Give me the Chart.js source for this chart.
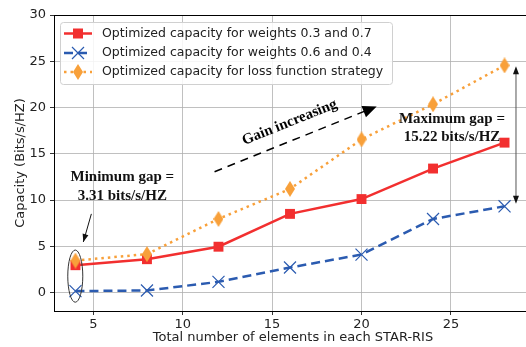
<!DOCTYPE html>
<html><head><meta charset="utf-8">
<style>html,body{margin:0;padding:0;background:#fff;}canvas{display:block;}</style>
<script src="https://cdn.jsdelivr.net/npm/chart.js@4/dist/chart.umd.min.js"></script>
</head><body>
<canvas id="c" width="526" height="347"></canvas>
<script>
// ---- data ----
const elements = [4, 8, 12, 16, 20, 24, 28];
const capW37 = [2.95, 3.6, 4.95, 8.5, 10.1, 13.4, 16.2];
const capW64 = [0.15, 0.22, 1.15, 2.7, 4.1, 7.95, 9.32];
const capLoss = [3.45, 4.15, 7.95, 11.2, 16.55, 20.35, 24.55];
const seriesLabels = [
  'Optimized capacity for weights 0.3 and 0.7',
  'Optimized capacity for weights 0.6 and 0.4',
  'Optimized capacity for loss function strategy'
];
const xTicks = [5, 10, 15, 20, 25];
const yTicks = [0, 5, 10, 15, 20, 25, 30];
const xRange = [2.8, 29.2];
const yRange = [-2, 30];
const xTitle = 'Total number of elements in each STAR-RIS';
const yTitle = 'Capacity (Bits/s/HZ)';
const minGapText = ['Minimum gap =', '3.31 bits/s/HZ'];
const maxGapText = ['Maximum gap =', '15.22 bits/s/HZ'];
const gainText = 'Gain increasing';

const RED = '#f22f2f', BLUE = '#2b5bb0', ORANGE = '#f8a03a';
const SANS = 'DejaVu Sans';
const SERIF = '"Liberation Serif", "DejaVu Serif", serif';

// thin diamond marker
function diamond(w, h, color) {
  const c = document.createElement('canvas');
  c.width = w; c.height = h;
  const g = c.getContext('2d');
  g.fillStyle = color;
  g.beginPath();
  g.moveTo(w / 2, 0); g.lineTo(w, h / 2); g.lineTo(w / 2, h); g.lineTo(0, h / 2); g.closePath();
  g.fill();
  return c;
}
const diamondImg = diamond(10, 16, ORANGE);

function pts(vals) { return elements.map((e, i) => ({ x: e, y: vals[i] })); }

function arrowHead(ctx, x0, y0, x1, y1, len, half) {
  const ang = Math.atan2(y1 - y0, x1 - x0);
  ctx.beginPath();
  ctx.moveTo(x1, y1);
  ctx.lineTo(x1 - len * Math.cos(ang) + half * Math.sin(ang), y1 - len * Math.sin(ang) - half * Math.cos(ang));
  ctx.lineTo(x1 - len * Math.cos(ang) - half * Math.sin(ang), y1 - len * Math.sin(ang) + half * Math.cos(ang));
  ctx.closePath();
  ctx.fill();
}

const overlay = {
  id: 'overlay',
  afterDatasetsDraw(chart) {
    const { ctx, scales: { x, y }, chartArea: a } = chart;
    const X = v => x.getPixelForValue(v), Y = v => y.getPixelForValue(v);
    ctx.save();
    // top spine
    ctx.strokeStyle = '#000'; ctx.lineWidth = 1;
    ctx.beginPath(); ctx.moveTo(a.left, a.top + 0.5); ctx.lineTo(a.right, a.top + 0.5); ctx.stroke();

    // gain arrow (dashed)
    const gx0 = X(11.78), gy0 = Y(13.06), gx1 = X(20.85), gy1 = Y(20.12);
    const ang = Math.atan2(gy1 - gy0, gx1 - gx0);
    ctx.strokeStyle = '#000'; ctx.fillStyle = '#000'; ctx.lineWidth = 1.5;
    ctx.setLineDash([8, 6]);
    ctx.beginPath(); ctx.moveTo(gx0, gy0);
    ctx.lineTo(gx1 - 10 * Math.cos(ang), gy1 - 10 * Math.sin(ang)); ctx.stroke();
    ctx.setLineDash([]);
    arrowHead(ctx, gx0, gy0, gx1, gy1, 14, 6);

    // gain text
    ctx.save();
    ctx.translate(X(15.98), Y(18.38));
    ctx.rotate(ang);
    ctx.font = 'bold 15px ' + SERIF;
    ctx.textAlign = 'center'; ctx.textBaseline = 'middle';
    ctx.fillText(gainText, 0, 0);
    ctx.restore();

    // min gap text
    ctx.font = 'bold 15px ' + SERIF;
    ctx.textAlign = 'center'; ctx.textBaseline = 'middle'; ctx.fillStyle = '#111';
    ctx.fillText(minGapText[0], X(6.62), Y(12.5));
    ctx.fillText(minGapText[1], X(6.62), Y(10.45));
    // min gap arrow
    ctx.strokeStyle = '#111'; ctx.fillStyle = '#111'; ctx.lineWidth = 1;
    const mx0 = X(4.89), my0 = Y(8.5), mx1 = X(4.44), my1 = Y(5.46);
    ctx.beginPath(); ctx.moveTo(mx0, my0); ctx.lineTo(mx1, my1); ctx.stroke();
    arrowHead(ctx, mx0, my0, mx1, my1, 8, 3);
    // ellipse
    ctx.strokeStyle = '#333'; ctx.lineWidth = 1;
    ctx.beginPath();
    ctx.ellipse(X(3.99), Y(1.77), X(3.99 + 0.42) - X(3.99), Y(1.77) - Y(1.77 + 2.82), 0, 0, Math.PI * 2);
    ctx.stroke();

    // max gap text
    ctx.fillStyle = '#111'; ctx.font = 'bold 15px ' + SERIF;
    ctx.fillText(maxGapText[0], X(25.06), Y(18.7));
    ctx.fillText(maxGapText[1], X(25.06), Y(16.75));
    // max gap double arrow
    const ax = X(28.64), ay0 = Y(24.46), ay1 = Y(9.59);
    ctx.strokeStyle = '#555'; ctx.lineWidth = 1;
    ctx.beginPath(); ctx.moveTo(ax, ay0 + 6); ctx.lineTo(ax, ay1 - 6); ctx.stroke();
    ctx.fillStyle = '#111';
    arrowHead(ctx, ax, ay1, ax, ay0, 8, 3);
    arrowHead(ctx, ax, ay0, ax, ay1, 8, 3);
    ctx.restore();
  },
  afterDraw(chart) {
    const { ctx, chartArea: a } = chart;
    ctx.save();
    // axis titles
    ctx.fillStyle = '#222';
    ctx.font = '13px ' + SANS;
    ctx.textAlign = 'center'; ctx.textBaseline = 'middle';
    ctx.fillText(xTitle, 293, 338);
    ctx.save();
    ctx.translate(21, (a.top + a.bottom) / 2);
    ctx.rotate(-Math.PI / 2);
    ctx.fillText(yTitle, 0, 0);
    ctx.restore();

    // legend
    const lx = 60.5, ly = 22.5, lw = 332, lh = 62, r = 3;
    ctx.fillStyle = 'rgba(255,255,255,0.85)';
    ctx.strokeStyle = '#d0d0d0'; ctx.lineWidth = 1;
    ctx.beginPath();
    ctx.moveTo(lx + r, ly); ctx.lineTo(lx + lw - r, ly); ctx.arcTo(lx + lw, ly, lx + lw, ly + r, r);
    ctx.lineTo(lx + lw, ly + lh - r); ctx.arcTo(lx + lw, ly + lh, lx + lw - r, ly + lh, r);
    ctx.lineTo(lx + r, ly + lh); ctx.arcTo(lx, ly + lh, lx, ly + lh - r, r);
    ctx.lineTo(lx, ly + r); ctx.arcTo(lx, ly, lx + r, ly, r);
    ctx.closePath(); ctx.fill(); ctx.stroke();

    const rows = [33.5, 53, 72];
    const hx0 = 64, hx1 = 92, hc = 78;
    chart.data.datasets.forEach((ds, i) => {
      const yy = rows[i];
      ctx.strokeStyle = ds.borderColor; ctx.lineWidth = ds.borderWidth;
      ctx.setLineDash(ds.borderDash || []);
      ctx.beginPath(); ctx.moveTo(hx0, yy); ctx.lineTo(hx1, yy); ctx.stroke();
      ctx.setLineDash([]);
      if (i === 0) {
        ctx.fillStyle = RED; ctx.fillRect(hc - 5, yy - 5, 10, 10);
      } else if (i === 1) {
        ctx.strokeStyle = BLUE; ctx.lineWidth = 1.2;
        ctx.beginPath();
        ctx.moveTo(hc - 6, yy - 6); ctx.lineTo(hc + 6, yy + 6);
        ctx.moveTo(hc + 6, yy - 6); ctx.lineTo(hc - 6, yy + 6);
        ctx.stroke();
      } else {
        ctx.drawImage(diamondImg, hc - 5, yy - 8);
      }
      ctx.fillStyle = '#222'; ctx.font = '12.5px ' + SANS;
      ctx.textAlign = 'left'; ctx.textBaseline = 'middle';
      ctx.fillText(ds.label, 102, yy);
    });
    ctx.restore();
  }
};

const axisCommon = {
  type: 'linear',
  grid: { color: '#b0b0b0', lineWidth: 0.8, tickLength: 4, tickColor: '#000', tickWidth: 0.8 },
  border: { color: '#000', width: 1 },
  ticks: { font: { family: SANS, size: 13 }, color: '#222', maxRotation: 0, autoSkip: false }
};

function zeroPad(s) { s.paddingLeft = 0; s.paddingRight = 0; s.paddingTop = 0; s.paddingBottom = 0; }

new Chart(document.getElementById('c'), {
  type: 'line',
  data: {
    datasets: [
      { label: seriesLabels[0], data: pts(capW37), borderColor: RED, backgroundColor: RED,
        borderWidth: 2.5, pointStyle: 'rect', pointRadius: 7, pointBorderWidth: 0,
        pointBackgroundColor: RED, order: 3 },
      { label: seriesLabels[1], data: pts(capW64), borderColor: BLUE, backgroundColor: BLUE,
        borderWidth: 2.5, borderDash: [9, 5], pointStyle: 'crossRot', pointRadius: 8.5,
        pointBorderWidth: 1.2, pointBorderColor: BLUE, order: 2 },
      { label: seriesLabels[2], data: pts(capLoss), borderColor: ORANGE, backgroundColor: ORANGE,
        borderWidth: 2.5, borderDash: [2.5, 4], pointStyle: diamondImg, pointRadius: 8, order: 1 }
    ]
  },
  options: {
    responsive: false, animation: false, devicePixelRatio: 1,
    layout: { autoPadding: false, padding: { top: 15, right: 0, left: 0, bottom: 0 } },
    plugins: { legend: { display: false }, tooltip: { enabled: false } },
    elements: { line: { tension: 0 } },
    scales: {
      x: Object.assign({}, axisCommon, {
        min: xRange[0], max: xRange[1],
        afterBuildTicks: s => { s.ticks = xTicks.map(v => ({ value: v })); },
        afterFit: s => { s.height = 36; zeroPad(s); },
        ticks: Object.assign({}, axisCommon.ticks, { padding: 2 })
      }),
      y: Object.assign({}, axisCommon, {
        min: yRange[0], max: yRange[1],
        afterBuildTicks: s => { s.ticks = yTicks.map(v => ({ value: v })); },
        afterFit: s => { s.width = 54; zeroPad(s); },
        ticks: Object.assign({}, axisCommon.ticks, { padding: 4 })
      })
    }
  },
  plugins: [overlay]
});
</script>
</body></html>
